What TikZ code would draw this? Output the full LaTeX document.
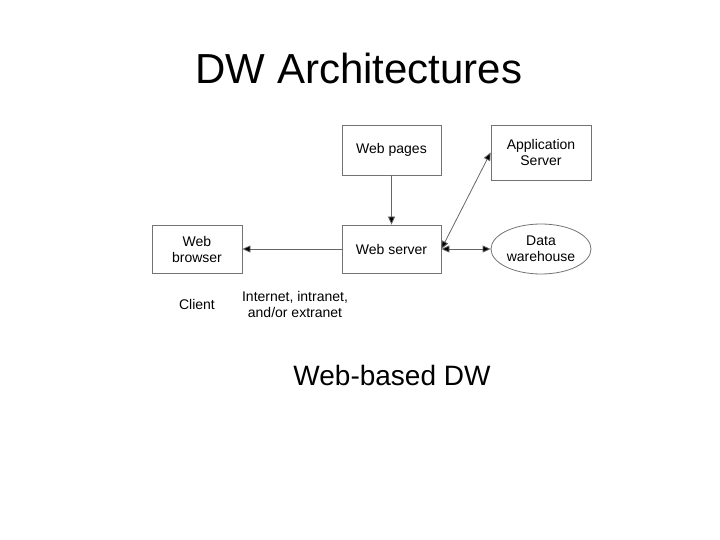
\documentclass[tikz,border=0pt]{standalone}
\usepackage{fontspec}
\setmainfont{Liberation Sans}
\usetikzlibrary{shapes.geometric,arrows.meta}
\begin{document}
\begin{tikzpicture}[x=1pt,y=-1pt,
  box/.style={draw=black!55,line width=0.8pt,minimum width=99pt,align=center,font=\fontsize{14}{16}\selectfont,inner sep=0pt},
  conn/.style={draw=black!60,line width=0.8pt,-{Triangle[length=8pt,width=7pt,fill=black]}},
  txt/.style={align=center,font=\fontsize{14}{16}\selectfont}]
\useasboundingbox (0,0) rectangle (720,540);
\node[font=\fontsize{42}{46}\selectfont] (title) at (359,68) {DW Architectures};
\node[box,minimum height=50pt] (wp) at (391.5,150) {Web pages};
\node[box,minimum height=55pt,minimum width=100pt] (as) at (541,152.5) {Application\\Server};
\node[box,minimum height=48pt,minimum width=90pt] (wb) at (197,249) {Web\\browser};
\node[box,minimum height=48pt] (ws) at (391.5,249) {Web server};
\node[box,ellipse,minimum width=100pt,minimum height=50pt] (dw) at (541,249) {Data\\warehouse};
\node[txt] (client) at (197,304) {Client};
\node[txt] (net) at (295,304) {Internet, intranet,\\and/or extranet};
\node[font=\fontsize{28}{32}\selectfont] (wbd) at (392,375) {Web-based DW};
\draw[conn] (wp) -- (ws);
\draw[conn] (ws) -- (wb);
\draw[conn,{Triangle[length=8pt,width=7pt,fill=black]}-{Triangle[length=8pt,width=7pt,fill=black]}] (ws.east) -- (as.west);
\draw[conn,{Triangle[length=8pt,width=7pt,fill=black]}-{Triangle[length=8pt,width=7pt,fill=black]}] (ws.east) -- (dw.west);
\end{tikzpicture}
\end{document}
